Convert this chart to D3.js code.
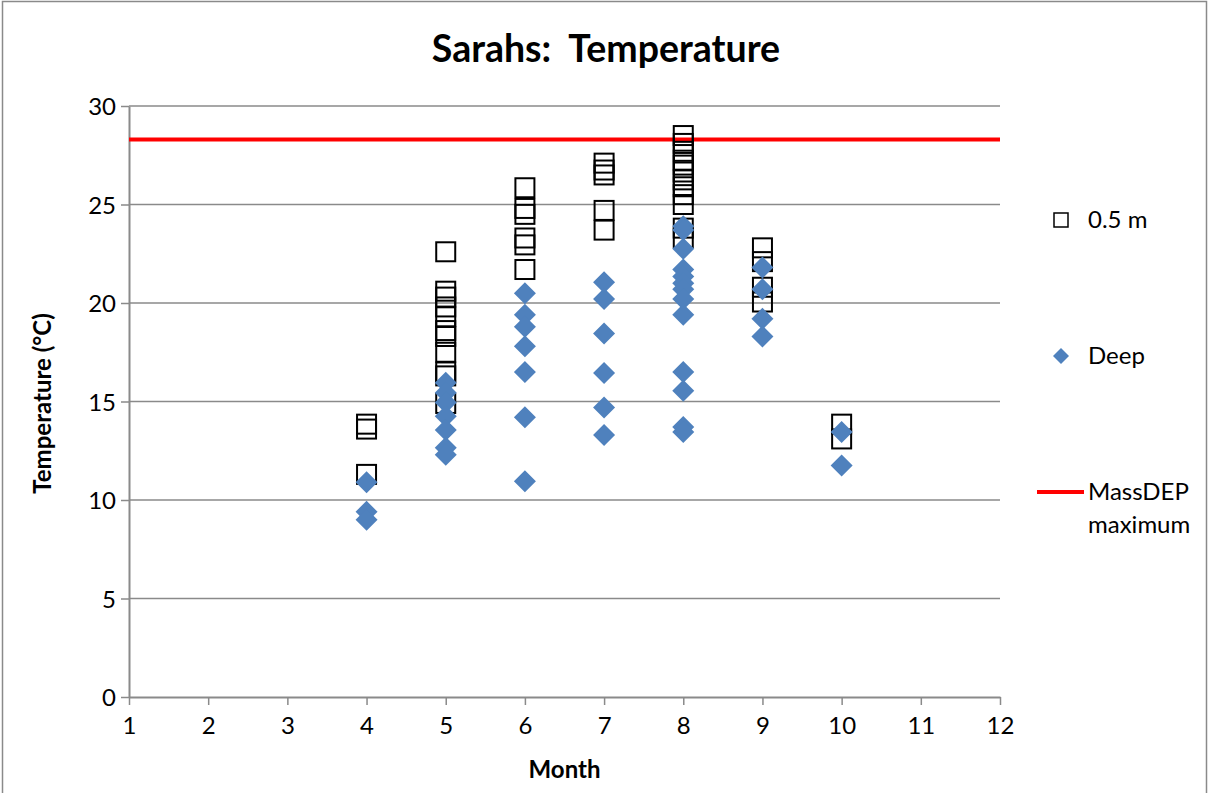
<!DOCTYPE html>
<html>
<head>
<meta charset="utf-8">
<script src="https://cdn.jsdelivr.net/npm/d3@7"></script>
<style>
  html, body { margin: 0; padding: 0; background: #fff; }
  svg { display: block; font-family: Lato, "Open Sans", sans-serif; }
</style>
</head>
<body>
<svg id="chart" width="1208" height="793"></svg>
<script>
// Sampling months and the readings taken in each one
const months = [4, 5, 6, 7, 8, 9, 10];

// 0.5 m readings (°C), one list per month
const surfaceTemps = [
  [13.85, 13.6, 11.3],
  [22.6, 20.6, 20.3, 19.8, 19.3, 18.6, 18.3, 17.5, 16.5, 16.3, 14.9],
  [25.85, 24.8, 24.5, 23.3, 22.95, 21.7],
  [27.1, 26.75, 26.5, 24.7, 23.7],
  [28.5, 28.1, 27.7, 27.25, 27.0, 26.65, 26.25, 25.9, 25.5, 25.0, 23.8, 23.3],
  [22.8, 22.1, 20.8, 20.05],
  [13.85, 13.1]
];

// Deep readings (°C), one list per month
const deepTemps = [
  [10.9, 9.4, 9.0],
  [15.95, 15.45, 14.95, 14.25, 13.55, 12.65, 12.3],
  [20.5, 19.4, 18.8, 17.8, 16.5, 14.2, 10.95],
  [21.05, 20.2, 18.45, 16.45, 14.7, 13.3],
  [23.9, 23.7, 22.75, 21.7, 21.35, 21.0, 20.7, 20.2, 19.4, 16.5, 15.55, 13.7, 13.45],
  [21.8, 20.7, 19.2, 18.3],
  [13.45, 11.75]
];

// MassDEP maximum temperature
const massDepMax = 28.3;

const xTicks = [1, 2, 3, 4, 5, 6, 7, 8, 9, 10, 11, 12];
const yTicks = [0, 5, 10, 15, 20, 25, 30];

const seriesNames = ["0.5 m", "Deep", "MassDEP maximum"];

const svg = d3.select("#chart");
const W = 1208, H = 793;
const plot = { left: 129, right: 1000, top: 106, bottom: 697 };

const x = d3.scaleLinear().domain([1, 12]).range([plot.left, plot.right]);
const y = d3.scaleLinear().domain([0, 30]).range([plot.bottom, plot.top]);

const gridColor = "#8a8a8a";
const blue = "#4F81BD";
const labelSize = 24;

// chart frame
svg.append("rect")
  .attr("x", 2.5).attr("y", 1.5)
  .attr("width", W - 4).attr("height", H + 10)
  .attr("fill", "#fff").attr("stroke", "#8a8a8a").attr("stroke-width", 1.5);

// title
svg.append("text")
  .attr("x", 606).attr("y", 62)
  .attr("text-anchor", "middle")
  .attr("font-size", 37.5).attr("font-weight", "bold")
  .attr("fill", "#000")
  .style("white-space", "pre")
  .text("Sarahs:  Temperature");

// horizontal gridlines
svg.append("g")
  .selectAll("line")
  .data(yTicks.filter(d => d > 0))
  .join("line")
  .attr("x1", plot.left).attr("x2", plot.right)
  .attr("y1", d => y(d)).attr("y2", d => y(d))
  .attr("stroke", gridColor).attr("stroke-width", 1.5);

// y axis
const yAxis = svg.append("g")
  .attr("transform", `translate(${plot.left},0)`)
  .call(d3.axisLeft(y).tickValues(yTicks).tickSize(8).tickPadding(5).tickSizeOuter(0));
// x axis
const xAxis = svg.append("g")
  .attr("transform", `translate(0,${plot.bottom})`)
  .call(d3.axisBottom(x).tickValues(xTicks).tickSize(8).tickPadding(14).tickSizeOuter(0));

[yAxis, xAxis].forEach(g => {
  g.select(".domain").attr("stroke", gridColor).attr("stroke-width", 2);
  g.selectAll(".tick line").attr("stroke", gridColor).attr("stroke-width", 1.5);
  g.selectAll(".tick text")
    .attr("fill", "#000")
    .attr("font-size", labelSize)
    .attr("font-family", "Lato, 'Open Sans', sans-serif");
});
yAxis.selectAll(".tick text").attr("dy", "0.36em");
xAxis.selectAll(".tick text").attr("dy", "0.62em");

// axis titles
svg.append("text")
  .attr("x", x(6.5)).attr("y", 778)
  .attr("text-anchor", "middle")
  .attr("font-size", labelSize).attr("font-weight", "bold")
  .text("Month");

svg.append("text")
  .attr("transform", `translate(51,${(plot.top + plot.bottom) / 2 + 2}) rotate(-90)`)
  .attr("text-anchor", "middle")
  .attr("font-size", labelSize).attr("font-weight", "bold")
  .text("Temperature (°C)");

// MassDEP maximum line
svg.append("line")
  .attr("x1", plot.left).attr("x2", plot.right)
  .attr("y1", y(massDepMax)).attr("y2", y(massDepMax))
  .attr("stroke", "#FF0000").attr("stroke-width", 4);

// flatten month lists into points
const surfacePts = months.flatMap((m, i) => surfaceTemps[i].map(t => ({ m, t })));
const deepPts = months.flatMap((m, i) => deepTemps[i].map(t => ({ m, t })));

// 0.5 m: open squares
const sq = 19;
svg.append("g")
  .selectAll("rect")
  .data(surfacePts)
  .join("rect")
  .attr("x", d => x(d.m) - sq / 2)
  .attr("y", d => y(d.t) - sq / 2)
  .attr("width", sq).attr("height", sq)
  .attr("fill", "none")
  .attr("stroke", "#000").attr("stroke-width", 2);

// Deep: filled diamonds
const dh = 11;
const diamond = `M0,${-dh}L${dh},0L0,${dh}L${-dh},0Z`;
svg.append("g")
  .selectAll("path")
  .data(deepPts)
  .join("path")
  .attr("d", diamond)
  .attr("transform", d => `translate(${x(d.m)},${y(d.t)})`)
  .attr("fill", blue);

// legend
const lg = svg.append("g").attr("font-size", labelSize).attr("fill", "#000");
lg.append("rect")
  .attr("x", 1054).attr("y", 213).attr("width", 14).attr("height", 14)
  .attr("fill", "#fff").attr("stroke", "#000").attr("stroke-width", 1.5);
lg.append("text").attr("x", 1088).attr("y", 228).text(seriesNames[0]);

const ldh = 8;
lg.append("path")
  .attr("d", `M0,${-ldh}L${ldh},0L0,${ldh}L${-ldh},0Z`)
  .attr("transform", "translate(1061,356)")
  .attr("fill", blue);
lg.append("text").attr("x", 1088).attr("y", 364).text(seriesNames[1]);

lg.append("line")
  .attr("x1", 1037).attr("x2", 1084).attr("y1", 492).attr("y2", 492)
  .attr("stroke", "#FF0000").attr("stroke-width", 4);
lg.append("text").attr("x", 1088).attr("y", 500).text("MassDEP");
lg.append("text").attr("x", 1088).attr("y", 533).text("maximum");
</script>
</body>
</html>
